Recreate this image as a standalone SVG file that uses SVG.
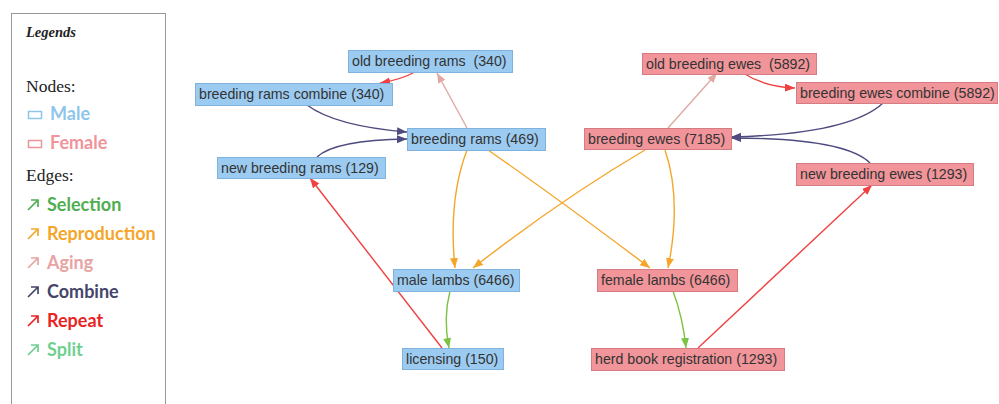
<svg xmlns="http://www.w3.org/2000/svg" width="999" height="404" viewBox="0 0 999 404">
<style>
.m rect{fill:#9ccbf1;stroke:#7fb3de;stroke-width:1}
.f rect{fill:#f1959a;stroke:#d57b82;stroke-width:1}
.n text{font-family:"Liberation Sans",Arial,sans-serif;font-size:14.2px;fill:#333}
.e{fill:none;stroke-width:1.4}
.rep{stroke:#f04040}
.age{stroke:#e0aaa2}
.com{stroke:#4e4b7e}
.pro{stroke:#f5a62a}
.sel{stroke:#7cc245}
.lg{font-family:"Liberation Serif",serif;fill:#222}
.ls{font-family:Lato,"Open Sans",sans-serif;font-weight:bold;font-size:18px}
.ic{fill:none;stroke-width:1.7}
</style>
<defs>
<marker id="aRep" markerWidth="11" markerHeight="9" refX="10" refY="4" orient="auto" markerUnits="userSpaceOnUse"><path d="M0,0 L10,4 L0,8 z" fill="#f04040"/></marker>
<marker id="aAge" markerWidth="11" markerHeight="9" refX="10" refY="4" orient="auto" markerUnits="userSpaceOnUse"><path d="M0,0 L10,4 L0,8 z" fill="#e0aaa2"/></marker>
<marker id="aCom" markerWidth="11" markerHeight="9" refX="10" refY="4" orient="auto" markerUnits="userSpaceOnUse"><path d="M0,0 L10,4 L0,8 z" fill="#4e4b7e"/></marker>
<marker id="aPro" markerWidth="11" markerHeight="9" refX="10" refY="4" orient="auto" markerUnits="userSpaceOnUse"><path d="M0,0 L10,4 L0,8 z" fill="#f5a62a"/></marker>
<marker id="aSel" markerWidth="11" markerHeight="9" refX="10" refY="4" orient="auto" markerUnits="userSpaceOnUse"><path d="M0,0 L10,4 L0,8 z" fill="#7cc245"/></marker>
</defs>
<rect width="999" height="404" fill="#fff"/>

<g id="legend">
<rect x="11.5" y="13.5" width="154" height="400" fill="#fff" stroke="#999" stroke-width="1"/>
<text x="26" y="37" class="lg" font-size="14.5" font-style="italic" font-weight="bold">Legends</text>
<text x="26" y="92" class="lg" font-size="17.5">Nodes:</text>
<rect x="28.5" y="111.5" width="13" height="7" fill="none" stroke="#8ec5ea" stroke-width="1.5"/>
<text x="50" y="120" class="ls" fill="#8ec5ea">Male</text>
<rect x="28.5" y="140.5" width="13" height="7" fill="none" stroke="#f0939a" stroke-width="1.5"/>
<text x="50" y="149" class="ls" fill="#f0939a">Female</text>
<text x="26" y="181" class="lg" font-size="17.5">Edges:</text>
<g class="ic">
<path d="M28,210 L38,200 M31,200 L38,200 L38,207" stroke="#4fae4f"/>
<path d="M28,239 L38,229 M31,229 L38,229 L38,236" stroke="#f5a62a"/>
<path d="M28,268 L38,258 M31,258 L38,258 L38,265" stroke="#e8a3a3"/>
<path d="M28,297 L38,287 M31,287 L38,287 L38,294" stroke="#45456a"/>
<path d="M28,326 L38,316 M31,316 L38,316 L38,323" stroke="#e82424"/>
<path d="M28,355 L38,345 M31,345 L38,345 L38,352" stroke="#6fcf8f"/>
</g>
<text x="47" y="211" class="ls" fill="#4fae4f">Selection</text>
<text x="47" y="240" class="ls" fill="#f5a62a">Reproduction</text>
<text x="47" y="269" class="ls" fill="#e8a3a3">Aging</text>
<text x="47" y="298" class="ls" fill="#45456a">Combine</text>
<text x="47" y="327" class="ls" fill="#e82424">Repeat</text>
<text x="47" y="356" class="ls" fill="#6fcf8f">Split</text>
</g>

<g id="edges">
<path class="e rep" d="M415,72 Q400,80 380,83" marker-end="url(#aRep)"/>
<path class="e rep" d="M743,73 Q765,87 795,88" marker-end="url(#aRep)"/>
<path class="e rep" d="M442,348 L310,178" marker-end="url(#aRep)"/>
<path class="e rep" d="M698,348 L872,185" marker-end="url(#aRep)"/>
<path class="e age" d="M467,128 L437,73" marker-end="url(#aAge)"/>
<path class="e age" d="M668,128 L717,73" marker-end="url(#aAge)"/>
<path class="e com" d="M307,105 Q335,126 407,132" marker-end="url(#aCom)"/>
<path class="e com" d="M317,157 Q335,140 407,139" marker-end="url(#aCom)"/>
<path class="e com" d="M883,103 Q850,134 731,137" marker-end="url(#aCom)"/>
<path class="e com" d="M870,163 Q845,138 731,138" marker-end="url(#aCom)"/>
<path class="e pro" d="M467,150 Q448,200 455,268" marker-end="url(#aPro)"/>
<path class="e pro" d="M488,150 Q560,200 650,268" marker-end="url(#aPro)"/>
<path class="e pro" d="M645,150 Q560,200 473,268" marker-end="url(#aPro)"/>
<path class="e pro" d="M665,150 Q682,200 668,268" marker-end="url(#aPro)"/>
<path class="e sel" d="M450,291 Q443,318 449,348" marker-end="url(#aSel)"/>
<path class="e sel" d="M673,291 Q683,318 686,348" marker-end="url(#aSel)"/>
</g>

<g id="n-old-rams" class="n m"><rect x="348.5" y="50.5" width="164" height="22"/><text x="352" y="66" xml:space="preserve">old breeding rams  (340)</text></g>
<g id="n-rams-combine" class="n m"><rect x="195.5" y="83.5" width="197" height="22"/><text x="199" y="99">breeding rams combine (340)</text></g>
<g id="n-rams" class="n m"><rect x="407.5" y="128.5" width="138" height="22"/><text x="411" y="144">breeding rams (469)</text></g>
<g id="n-new-rams" class="n m"><rect x="217.5" y="157.5" width="168" height="21"/><text x="221" y="173">new breeding rams (129)</text></g>
<g id="n-male-lambs" class="n m"><rect x="393.5" y="269.5" width="126" height="22"/><text x="397" y="285">male lambs (6466)</text></g>
<g id="n-licensing" class="n m"><rect x="402.5" y="348.5" width="101" height="21"/><text x="406" y="364">licensing (150)</text></g>
<g id="n-old-ewes" class="n f"><rect x="642.5" y="53.5" width="174" height="21"/><text x="646" y="69" xml:space="preserve">old breeding ewes  (5892)</text></g>
<g id="n-ewes-combine" class="n f"><rect x="796.5" y="82.5" width="201" height="21"/><text x="800" y="98">breeding ewes combine (5892)</text></g>
<g id="n-ewes" class="n f"><rect x="584.5" y="128.5" width="147" height="21"/><text x="588" y="144">breeding ewes (7185)</text></g>
<g id="n-new-ewes" class="n f"><rect x="796.5" y="163.5" width="177" height="22"/><text x="800" y="179">new breeding ewes (1293)</text></g>
<g id="n-female-lambs" class="n f"><rect x="597.5" y="269.5" width="140" height="22"/><text x="601" y="285">female lambs (6466)</text></g>
<g id="n-herd-book" class="n f"><rect x="591.5" y="348.5" width="193" height="22"/><text x="595" y="364">herd book registration (1293)</text></g>
</svg>
